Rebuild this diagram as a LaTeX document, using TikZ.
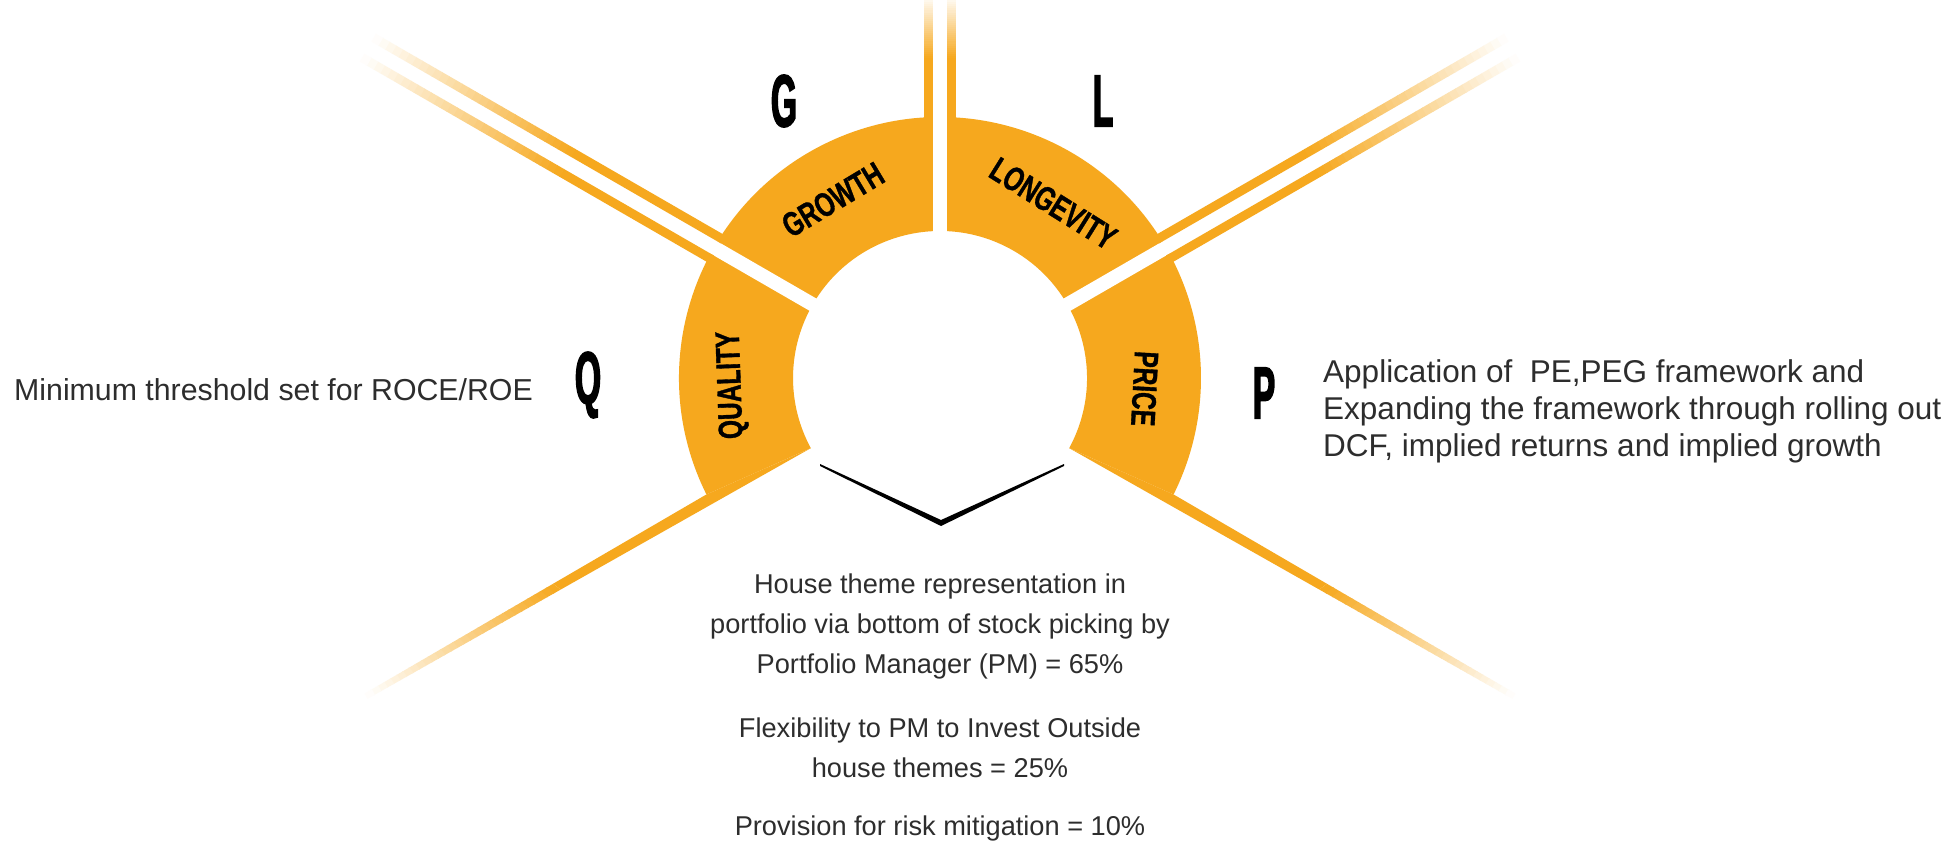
\documentclass[tikz,border=0pt]{standalone}
\usepackage{fontspec}
\setmainfont{Liberation Sans}
\newfontfamily\labelfont[FakeStretch=0.72,FakeBold=1]{Liberation Sans}
\newfontfamily\bigfont[FakeStretch=0.45,FakeBold=2]{Liberation Sans}
\usetikzlibrary{calc}
\definecolor{ringc}{RGB}{246,168,30}
\definecolor{txt}{RGB}{45,45,45}
\def\Ro{261}
\def\Ri{147}
\newcommand\mystrip[5]{%
  \begin{scope}[shift={(C)},rotate=#1]
    \fill[ringc] (\Ro-4,#2) rectangle (#4+0.5,#3);
    \foreach \k in {0,...,29}{
      \pgfmathsetmacro\xa{#4+\k*(#5-#4)/30}
      \pgfmathsetmacro\xb{\xa+(#5-#4)/30+0.6}
      \pgfmathsetmacro\pc{100*(1-(\k+0.5)/30)}
      \fill[ringc!\pc!white] (\xa,#2) rectangle (\xb,#3);
    }
  \end{scope}}
\newcommand\myband[4]{%
  \coordinate (M) at ($(#1)!0.21!(#4)$);
  \fill[ringc] (#1) -- (#2) -- ($(#2)!0.45!(#3)$) -- ($(M)!0.45!(#4)$) -- cycle;
  \foreach \k in {0,...,29}{
    \pgfmathsetmacro\ta{0.45+\k*0.55/30}
    \pgfmathsetmacro\tb{\ta+0.55/30+0.003}
    \pgfmathsetmacro\pc{100*(1-(\k+0.5)/30)}
    \fill[ringc!\pc!white] ($(#2)!\ta!(#3)$) -- ($(#2)!\tb!(#3)$) -- ($(M)!\tb!(#4)$) -- ($(M)!\ta!(#4)$) -- cycle;
  }}
\begin{document}
\begin{tikzpicture}[x=1pt,y=1pt,
  seglabel/.style={font=\labelfont\bfseries\fontsize{34}{34}\selectfont, text=black, inner sep=0pt},
  bigletter/.style={font=\bigfont\bfseries\fontsize{74}{74}\selectfont, text=black, inner sep=0pt},
  sidetext/.style={font=\fontsize{31.5}{37}\selectfont, text=txt, inner sep=0pt, align=left},
  bottomtext/.style={font=\fontsize{27.2}{40}\selectfont, text=txt, inner sep=0pt, align=center},
]
\useasboundingbox (0,0) rectangle (1956,847);
\fill[white] (0,0) rectangle (1956,847);
\coordinate (C) at (940,469);

% ring
\fill[ringc] ($(C)+(206.5:\Ro)$) arc[start angle=206.5, end angle=-26.5, radius=\Ro]
  -- ($(C)+(-28.5:\Ri)$) arc[start angle=-28.5, end angle=208.5, radius=\Ri] -- cycle;

% white gaps
\foreach \a in {30,90,150}{
  \begin{scope}[shift={(C)},rotate=\a]
    \fill[white] (\Ri-10,-7) rectangle (\Ro+10,7);
  \end{scope}
}

% double lines on upper spokes
\mystrip{90}{7}{16}{320}{382}
\mystrip{90}{-7}{-16}{320}{382}
\mystrip{150}{7}{16}{430}{660}
\mystrip{150}{-7}{-16}{430}{660}
\mystrip{30}{7}{16}{430}{660}
\mystrip{30}{-7}{-16}{430}{660}

% lower bands
\begin{scope}[shift={(C)}]
  \coordinate (LP1) at (208.5:\Ri);
  \coordinate (LP2) at (206.5:\Ro);
  \coordinate (LTU) at ($(209:655)+(119:3)$);
  \coordinate (LTL) at ($(209:655)+(299:3)$);
  \coordinate (RP1) at (-28.5:\Ri);
  \coordinate (RP2) at (-26.5:\Ro);
  \coordinate (RTU) at ($(-29:655)+(61:3)$);
  \coordinate (RTL) at ($(-29:655)+(241:3)$);
\end{scope}
\myband{LP1}{LP2}{LTU}{LTL}
\myband{RP1}{RP2}{RTU}{RTL}

% segment labels
\node[seglabel, rotate=31] (growth) at ($(C)+(121:208)$) {GROWTH};
\node[seglabel, rotate=-32] (longevity) at ($(C)+(57:208)$) {LONGEVITY};
\node[seglabel, rotate=92] (quality) at ($(C)+(182:208)$) {QUALITY};
\node[seglabel, rotate=-93] (price) at ($(C)+(-3:205)$) {PRICE};

% big letters
\node[bigletter] (G) at (784,746) {G};
\node[bigletter] (L) at (1103,746) {L};
\node[bigletter] (Q) at (588,462) {Q};
\node[bigletter] (P) at (1264,454) {P};

% chevron
\fill[black] (820,383) -- (941,327) -- (1064,383) -- (1064,381) -- (941,321) -- (820,381) -- cycle;

% texts
\node[sidetext, anchor=base west, font=\fontsize{30.3}{37}\selectfont] (lefttext) at (14,446) {Minimum threshold set for ROCE/ROE};
\node[sidetext, anchor=base west] (righttext) at (1323,390) {Application of\ \ PE,PEG framework and\\Expanding the framework through rolling out\\DCF, implied returns and implied growth};
\node[bottomtext, anchor=base] (b1) at (940,174) {House theme representation in\\portfolio via bottom of stock picking by\\Portfolio Manager (PM) = 65\%};
\node[bottomtext, anchor=base] (b2) at (940,70) {Flexibility to PM to Invest Outside\\house themes = 25\%};
\node[bottomtext, anchor=base] (b3) at (940,12) {Provision for risk mitigation = 10\%};
\end{tikzpicture}
\end{document}
